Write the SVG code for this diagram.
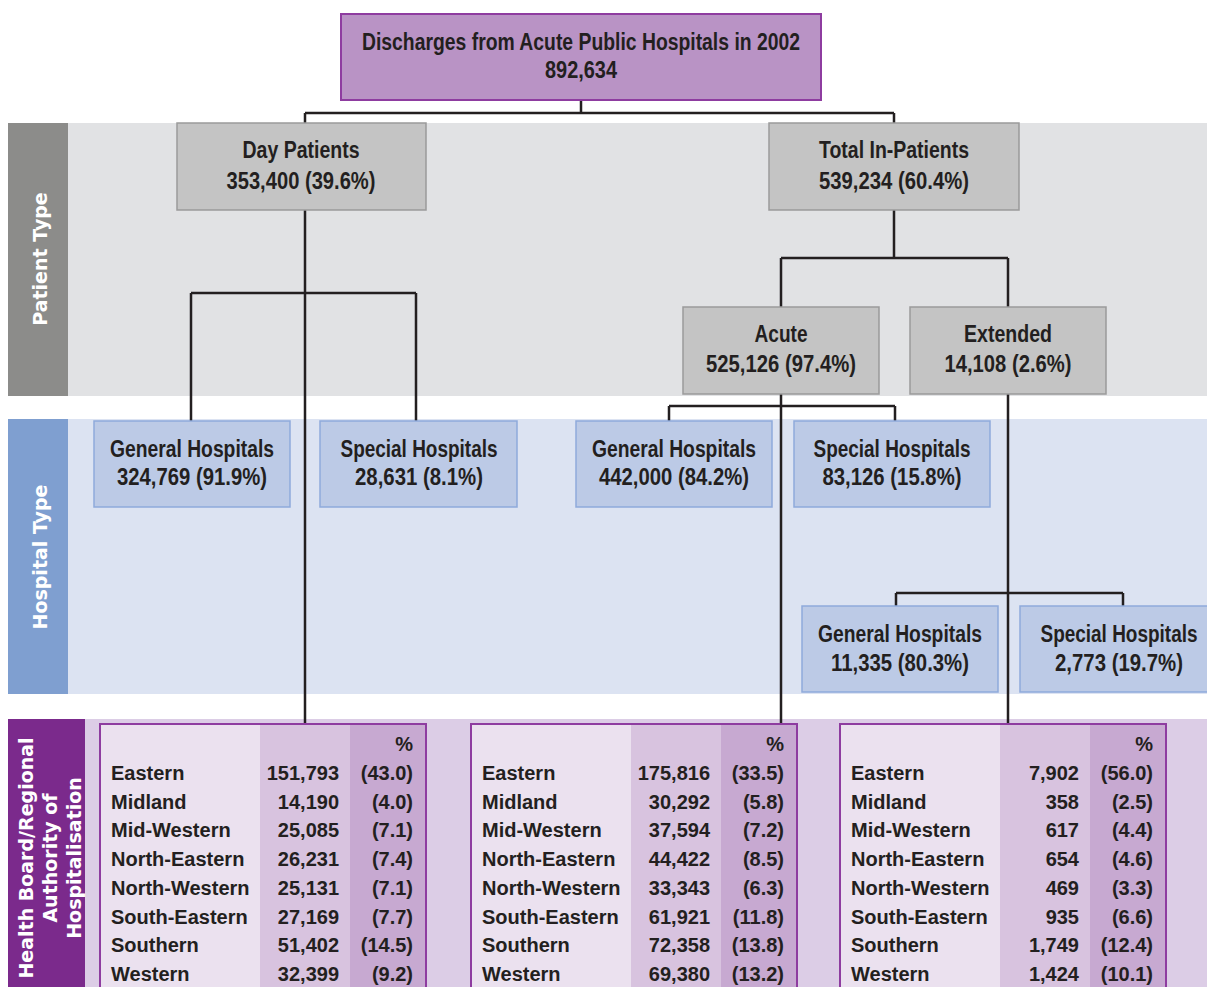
<svg xmlns="http://www.w3.org/2000/svg" width="1207" height="987" viewBox="0 0 1207 987">
<style>
.bx{font-family:"Liberation Sans",Arial,sans-serif;font-weight:bold;font-size:23px;fill:#231f20;text-anchor:middle}
.side{font-family:"DejaVu Sans",sans-serif;font-weight:bold;font-size:19px;fill:#ffffff;text-anchor:middle}
.tt{font-family:"Liberation Sans",Arial,sans-serif;font-weight:bold;font-size:20px;fill:#231f20}
.r{text-anchor:end}
.pt{fill:#c4c4c4;stroke:#9a9a9a;stroke-width:1.5}
.ht{fill:#bccae6;stroke:#8eaadb;stroke-width:1.5}
.con{fill:none;stroke:#231f20;stroke-width:2.5}
.c1{fill:#ebe1ef}.c2{fill:#d8c3df}.c3{fill:#c7a9d1}
.tb{fill:none;stroke:#8e3ca0;stroke-width:2}
</style>
<rect width="1207" height="987" fill="#ffffff"/>
<g id="bands">
<rect x="68" y="123" width="1139" height="273" fill="#e1e2e4"/>
<rect x="8" y="123" width="60" height="273" fill="#8c8c8a"/>
<rect x="68" y="419" width="1139" height="275" fill="#dce3f2"/>
<rect x="8" y="419" width="60" height="275" fill="#7f9fd0"/>
<rect x="85" y="719" width="1122" height="268" fill="#dccde6"/>
<rect x="8" y="719" width="77" height="268" fill="#7b2a8c"/>
<text class="side" transform="translate(47,259) rotate(-90)">Patient Type</text>
<text class="side" transform="translate(47,557) rotate(-90)">Hospital Type</text>
<text class="side" transform="translate(33,858) rotate(-90)" font-size="19.5">Health Board/Regional</text>
<text class="side" transform="translate(57,858) rotate(-90)" font-size="19.5">Authority of</text>
<text class="side" transform="translate(81,858) rotate(-90)" font-size="19.5">Hospitalisation</text>
</g>
<g id="connectors">
<path class="con" d="M581,100V113M305,113H894M305,113V123M894,113V123"/>
<path class="con" d="M305,210V724M191,293H416M191,293V421M416,293V421"/>
<path class="con" d="M894,210V258M781,258H1008M781,258V307M1008,258V307"/>
<path class="con" d="M781,394V724M669,406H895M669,406V421M895,406V421"/>
<path class="con" d="M1008,394V724M896,593H1123M896,593V606M1123,593V606"/>
</g>
<g id="root">
<rect x="341" y="14" width="480" height="86" fill="#b993c5" stroke="#8e3ca0" stroke-width="2"/>
<text class="bx" x="581" y="50" textLength="438" lengthAdjust="spacingAndGlyphs">Discharges from Acute Public Hospitals in 2002</text>
<text class="bx" x="581" y="78" textLength="72" lengthAdjust="spacingAndGlyphs">892,634</text>
</g>
<g id="day-patients">
<rect class="pt" x="177" y="123" width="249" height="87"/>
<text class="bx" x="301" y="158" textLength="117" lengthAdjust="spacingAndGlyphs">Day Patients</text>
<text class="bx" x="301" y="189" textLength="149" lengthAdjust="spacingAndGlyphs">353,400 (39.6%)</text>
</g>
<g id="in-patients">
<rect class="pt" x="769" y="123" width="250" height="87"/>
<text class="bx" x="894" y="158" textLength="150" lengthAdjust="spacingAndGlyphs">Total In-Patients</text>
<text class="bx" x="894" y="189" textLength="150" lengthAdjust="spacingAndGlyphs">539,234 (60.4%)</text>
</g>
<g id="acute">
<rect class="pt" x="683" y="307" width="196" height="87"/>
<text class="bx" x="781" y="342" textLength="53" lengthAdjust="spacingAndGlyphs">Acute</text>
<text class="bx" x="781" y="372" textLength="150" lengthAdjust="spacingAndGlyphs">525,126 (97.4%)</text>
</g>
<g id="extended">
<rect class="pt" x="910" y="307" width="196" height="87"/>
<text class="bx" x="1008" y="342" textLength="88" lengthAdjust="spacingAndGlyphs">Extended</text>
<text class="bx" x="1008" y="372" textLength="127" lengthAdjust="spacingAndGlyphs">14,108 (2.6%)</text>
</g>
<g id="day-general">
<rect class="ht" x="94" y="421" width="196" height="86"/>
<text class="bx" x="192" y="457" textLength="164" lengthAdjust="spacingAndGlyphs">General Hospitals</text>
<text class="bx" x="192" y="485" textLength="150" lengthAdjust="spacingAndGlyphs">324,769 (91.9%)</text>
</g>
<g id="day-special">
<rect class="ht" x="320" y="421" width="197" height="86"/>
<text class="bx" x="419" y="457" textLength="157" lengthAdjust="spacingAndGlyphs">Special Hospitals</text>
<text class="bx" x="419" y="485" textLength="128" lengthAdjust="spacingAndGlyphs">28,631 (8.1%)</text>
</g>
<g id="acute-general">
<rect class="ht" x="576" y="421" width="196" height="86"/>
<text class="bx" x="674" y="457" textLength="164" lengthAdjust="spacingAndGlyphs">General Hospitals</text>
<text class="bx" x="674" y="485" textLength="150" lengthAdjust="spacingAndGlyphs">442,000 (84.2%)</text>
</g>
<g id="acute-special">
<rect class="ht" x="794" y="421" width="196" height="86"/>
<text class="bx" x="892" y="457" textLength="157" lengthAdjust="spacingAndGlyphs">Special Hospitals</text>
<text class="bx" x="892" y="485" textLength="139" lengthAdjust="spacingAndGlyphs">83,126 (15.8%)</text>
</g>
<g id="ext-general">
<rect class="ht" x="802" y="606" width="196" height="86"/>
<text class="bx" x="900" y="642" textLength="164" lengthAdjust="spacingAndGlyphs">General Hospitals</text>
<text class="bx" x="900" y="671" textLength="138" lengthAdjust="spacingAndGlyphs">11,335 (80.3%)</text>
</g>
<g id="ext-special">
<rect class="ht" x="1020" y="606" width="196" height="86"/>
<text class="bx" x="1119" y="642" textLength="157" lengthAdjust="spacingAndGlyphs">Special Hospitals</text>
<text class="bx" x="1119" y="671" textLength="128" lengthAdjust="spacingAndGlyphs">2,773 (19.7%)</text>
</g>
<g id="table-day">
<rect class="c1" x="100" y="724" width="160" height="270"/>
<rect class="c2" x="260" y="724" width="90" height="270"/>
<rect class="c3" x="350" y="724" width="76" height="270"/>
<rect class="tb" x="100" y="724" width="326" height="270"/>
<text class="tt r" x="413" y="751">%</text>
<text class="tt" x="111" y="780">Eastern</text><text class="tt r" x="339" y="780">151,793</text><text class="tt r" x="413" y="780">(43.0)</text>
<text class="tt" x="111" y="809">Midland</text><text class="tt r" x="339" y="809">14,190</text><text class="tt r" x="413" y="809">(4.0)</text>
<text class="tt" x="111" y="837">Mid-Western</text><text class="tt r" x="339" y="837">25,085</text><text class="tt r" x="413" y="837">(7.1)</text>
<text class="tt" x="111" y="866">North-Eastern</text><text class="tt r" x="339" y="866">26,231</text><text class="tt r" x="413" y="866">(7.4)</text>
<text class="tt" x="111" y="895">North-Western</text><text class="tt r" x="339" y="895">25,131</text><text class="tt r" x="413" y="895">(7.1)</text>
<text class="tt" x="111" y="924">South-Eastern</text><text class="tt r" x="339" y="924">27,169</text><text class="tt r" x="413" y="924">(7.7)</text>
<text class="tt" x="111" y="952">Southern</text><text class="tt r" x="339" y="952">51,402</text><text class="tt r" x="413" y="952">(14.5)</text>
<text class="tt" x="111" y="981">Western</text><text class="tt r" x="339" y="981">32,399</text><text class="tt r" x="413" y="981">(9.2)</text>
</g>
<g id="table-acute">
<rect class="c1" x="471" y="724" width="160" height="270"/>
<rect class="c2" x="631" y="724" width="90" height="270"/>
<rect class="c3" x="721" y="724" width="76" height="270"/>
<rect class="tb" x="471" y="724" width="326" height="270"/>
<text class="tt r" x="784" y="751">%</text>
<text class="tt" x="482" y="780">Eastern</text><text class="tt r" x="710" y="780">175,816</text><text class="tt r" x="784" y="780">(33.5)</text>
<text class="tt" x="482" y="809">Midland</text><text class="tt r" x="710" y="809">30,292</text><text class="tt r" x="784" y="809">(5.8)</text>
<text class="tt" x="482" y="837">Mid-Western</text><text class="tt r" x="710" y="837">37,594</text><text class="tt r" x="784" y="837">(7.2)</text>
<text class="tt" x="482" y="866">North-Eastern</text><text class="tt r" x="710" y="866">44,422</text><text class="tt r" x="784" y="866">(8.5)</text>
<text class="tt" x="482" y="895">North-Western</text><text class="tt r" x="710" y="895">33,343</text><text class="tt r" x="784" y="895">(6.3)</text>
<text class="tt" x="482" y="924">South-Eastern</text><text class="tt r" x="710" y="924">61,921</text><text class="tt r" x="784" y="924">(11.8)</text>
<text class="tt" x="482" y="952">Southern</text><text class="tt r" x="710" y="952">72,358</text><text class="tt r" x="784" y="952">(13.8)</text>
<text class="tt" x="482" y="981">Western</text><text class="tt r" x="710" y="981">69,380</text><text class="tt r" x="784" y="981">(13.2)</text>
</g>
<g id="table-extended">
<rect class="c1" x="840" y="724" width="160" height="270"/>
<rect class="c2" x="1000" y="724" width="90" height="270"/>
<rect class="c3" x="1090" y="724" width="76" height="270"/>
<rect class="tb" x="840" y="724" width="326" height="270"/>
<text class="tt r" x="1153" y="751">%</text>
<text class="tt" x="851" y="780">Eastern</text><text class="tt r" x="1079" y="780">7,902</text><text class="tt r" x="1153" y="780">(56.0)</text>
<text class="tt" x="851" y="809">Midland</text><text class="tt r" x="1079" y="809">358</text><text class="tt r" x="1153" y="809">(2.5)</text>
<text class="tt" x="851" y="837">Mid-Western</text><text class="tt r" x="1079" y="837">617</text><text class="tt r" x="1153" y="837">(4.4)</text>
<text class="tt" x="851" y="866">North-Eastern</text><text class="tt r" x="1079" y="866">654</text><text class="tt r" x="1153" y="866">(4.6)</text>
<text class="tt" x="851" y="895">North-Western</text><text class="tt r" x="1079" y="895">469</text><text class="tt r" x="1153" y="895">(3.3)</text>
<text class="tt" x="851" y="924">South-Eastern</text><text class="tt r" x="1079" y="924">935</text><text class="tt r" x="1153" y="924">(6.6)</text>
<text class="tt" x="851" y="952">Southern</text><text class="tt r" x="1079" y="952">1,749</text><text class="tt r" x="1153" y="952">(12.4)</text>
<text class="tt" x="851" y="981">Western</text><text class="tt r" x="1079" y="981">1,424</text><text class="tt r" x="1153" y="981">(10.1)</text>
</g>
</svg>
